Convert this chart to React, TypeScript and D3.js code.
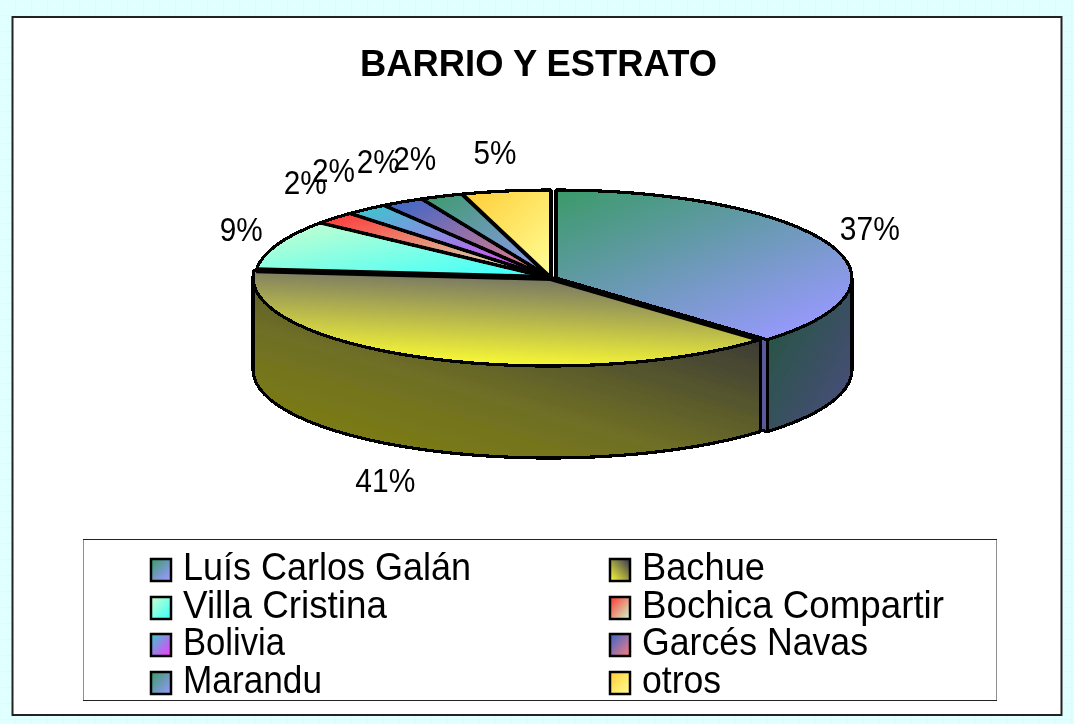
import React from "react";
import * as d3 from "d3";

const title = "BARRIO Y ESTRATO";
const categories = ["Luís Carlos Galán", "Bachue", "Villa Cristina", "Bochica Compartir", "Bolivia", "Garcés Navas", "Marandu", "otros"];
const percents = [37, 41, 9, 2, 2, 2, 2, 5];
const topFrom = ["#3a9a68", "#ffff33", "#ccffcc", "#ff3333", "#33cccc", "#3366cc", "#3a9a68", "#ffcc33"];
const topTo = ["#9999ff", "#6a6a68", "#33ffff", "#ccffcc", "#ff33ff", "#ff7c80", "#9999ff", "#ffff99"];
const gradDir = [[0, 0, 0.8, 1], [0.35, 1, 0.6, 0], [0, 0, 1, 1], [0, 0, 1, 1], [0, 0, 1, 1], [0, 0, 1, 1], [0, 0, 1, 1], [0, 0, 1, 1]];
const legendWidths = [288, 123, 204, 302, 102, 226, 139, 79];
const radialWidths = [3.5, 5, 6, 3.5, 3.5, 3.5, 3.5, 4];

const W = 1074, H = 724;
const cx = 551, cy = 278, rx = 296, ry = 88, depth = 92;
const offsets = [5, -2, 0, 0, 0, 0, 0, 0];
const labelFont = 33;
const rad = (d: number) => (d * Math.PI) / 180;

// Excel's 3D perspective squeezes the true angles slightly
const warp = d3.scaleLinear().domain([0, 133.2, 280.8, 313.2, 342, 360]).range([0, 134.5, 275, 308.8, 342.5, 360]);
const total = d3.sum(percents);
const cum = d3.cumsum(percents);
const angle = d3.scaleLinear().domain([0, total]).range([0, 360]);
const slices = percents.map((p, i) => ({
  i,
  a0: warp(angle(cum[i] - p)),
  a1: warp(angle(cum[i])),
  dx: offsets[i],
}));

const px = (a: number, dx: number) => cx + dx + rx * Math.sin(rad(a));
const py = (a: number, dy = 0) => cy + dy - ry * Math.cos(rad(a));
const arcPts = (a0: number, a1: number, dx: number, dy = 0): [number, number][] => {
  const n = Math.max(1, Math.round((a1 - a0) / 4));
  return d3.range(n + 1).map((k) => {
    const a = a0 + ((a1 - a0) * k) / n;
    return [px(a, dx), py(a, dy)] as [number, number];
  });
};
const poly = d3.line();
const topPath = (a0: number, a1: number, dx: number) =>
  poly([[cx + dx, cy], ...arcPts(a0, a1, dx)]) + "Z";
const wallPath = (a0: number, a1: number, dx: number) =>
  poly([...arcPts(a0, a1, dx), ...arcPts(a0, a1, dx, depth).reverse()]) + "Z";
const cutPath = (a: number, dx: number) =>
  poly([[cx + dx, cy], [px(a, dx), py(a)], [px(a, dx), py(a, depth)], [cx + dx, cy + depth]]) + "Z";

const darken = (c: string, k: number) => {
  const r = d3.rgb(c);
  return d3.rgb(r.r * k, r.g * k, r.b * k).formatHex();
};

const labelNudge = [[9, 2], [-25, 81], [2, 1], [0, -5], [-8, -4], [-4, -2], [-12, 4], [-5, 6]];
const rowY = [558, 596, 633, 671];
const colX = [150, 609];

export default function App() {
  const stroke = { stroke: "#000", strokeWidth: 3.2, strokeLinejoin: "round" as const, shapeRendering: "crispEdges" as const };
  const front = slices.filter((s) => s.a0 < 270 && s.a1 > 90);
  return (
    <svg width={W} height={H} style={{ position: "fixed", left: 0, top: 0, display: "block" }} fontFamily="'Liberation Sans', Arial, sans-serif">
      <defs>
        <pattern id="bg" width={16} height={16} patternUnits="userSpaceOnUse">
          <rect width={16} height={16} fill="#e0ffff" />
          <rect x={15} width={1} height={16} fill="#dbfcfc" />
          <rect y={15} width={16} height={1} fill="#dbfcfc" />
          <rect x={4} y={4} width={4} height={4} fill="#e6ffff" />
        </pattern>
        <filter id="soft" x="0" y="0" width="100%" height="100%">
          <feGaussianBlur stdDeviation="0.45" />
        </filter>
        {categories.map((_, i) => (
          <linearGradient key={i} id={`g${i}`} x1={gradDir[i][0]} y1={gradDir[i][1]} x2={gradDir[i][2]} y2={gradDir[i][3]}>
            <stop offset="0" stopColor={topFrom[i]} />
            <stop offset="1" stopColor={topTo[i]} />
          </linearGradient>
        ))}
        <linearGradient id="lg1" x1="0" y1="1" x2="1" y2="0">
          <stop offset="0" stopColor="#ffff33" />
          <stop offset="1" stopColor="#333355" />
        </linearGradient>
        <linearGradient id="w0" x1="0" y1="0" x2="1" y2="1">
          <stop offset="0" stopColor={darken(topFrom[0], 0.55)} />
          <stop offset="1" stopColor={darken(topTo[0], 0.5)} />
        </linearGradient>
        <linearGradient id="w1" x1="0.3" y1="1" x2="1" y2="0.15">
          <stop offset="0" stopColor="#7c7c14" />
          <stop offset="0.35" stopColor="#6e6e26" />
          <stop offset="1" stopColor="#2e2e3a" />
        </linearGradient>
      </defs>
      <rect width={W} height={H} fill="url(#bg)" />
      <rect x={12.5} y={17} width={1049} height={698} fill="#fff" stroke="#222" strokeWidth={2} />
      <g filter="url(#soft)">
        <text x={538.5} y={76} textAnchor="middle" fontSize={37} fontWeight={700} textLength={357} lengthAdjust="spacingAndGlyphs">{title}</text>

        <path d={cutPath(slices[0].a1, slices[0].dx)} fill="#5a5a9a" {...stroke} />
        {front.map((s) => (
          <path key={s.i} d={wallPath(Math.max(s.a0, 90), Math.min(s.a1, 270), s.dx)} fill={`url(#w${s.i})`} {...stroke} />
        ))}
        {slices.map((s) => (
          <path key={s.i} d={topPath(s.a0, s.a1, s.dx)} fill={`url(#g${s.i})`} {...stroke} />
        ))}
        {slices.map((s) => (
          <line key={s.i} x1={cx + s.dx} y1={cy} x2={px(s.a0, s.dx)} y2={py(s.a0)} stroke="#000" strokeWidth={radialWidths[s.i]} />
        ))}

        {slices.map((s) => {
          const m = (s.a0 + s.a1) / 2;
          const x = cx + (rx + 40) * Math.sin(rad(m)) + labelNudge[s.i][0];
          const y = cy - (ry + 45) * Math.cos(rad(m)) + labelNudge[s.i][1];
          return (
            <text key={s.i} x={x} y={y + labelFont * 0.36} textAnchor="middle" fontSize={labelFont} textLength={percents[s.i] >= 10 ? 60 : 43} lengthAdjust="spacingAndGlyphs">
              {percents[s.i]}%
            </text>
          );
        })}

        <rect x={83} y={539.5} width={914} height={161} fill="#fff" stroke="#222" strokeWidth={1} />
        {categories.map((c, i) => {
          const col = i % 2;
          const row = Math.floor(i / 2);
          return (
            <g key={c}>
              <rect x={colX[col] + 1} y={rowY[row] + 1} width={20} height={22} fill={i === 1 ? "url(#lg1)" : `url(#g${i})`} stroke="#000" strokeWidth={2.5} />
              <text x={colX[col] + 33} y={rowY[row] + 22} fontSize={38} textLength={legendWidths[i]} lengthAdjust="spacingAndGlyphs">{c}</text>
            </g>
          );
        })}
      </g>
    </svg>
  );
}
